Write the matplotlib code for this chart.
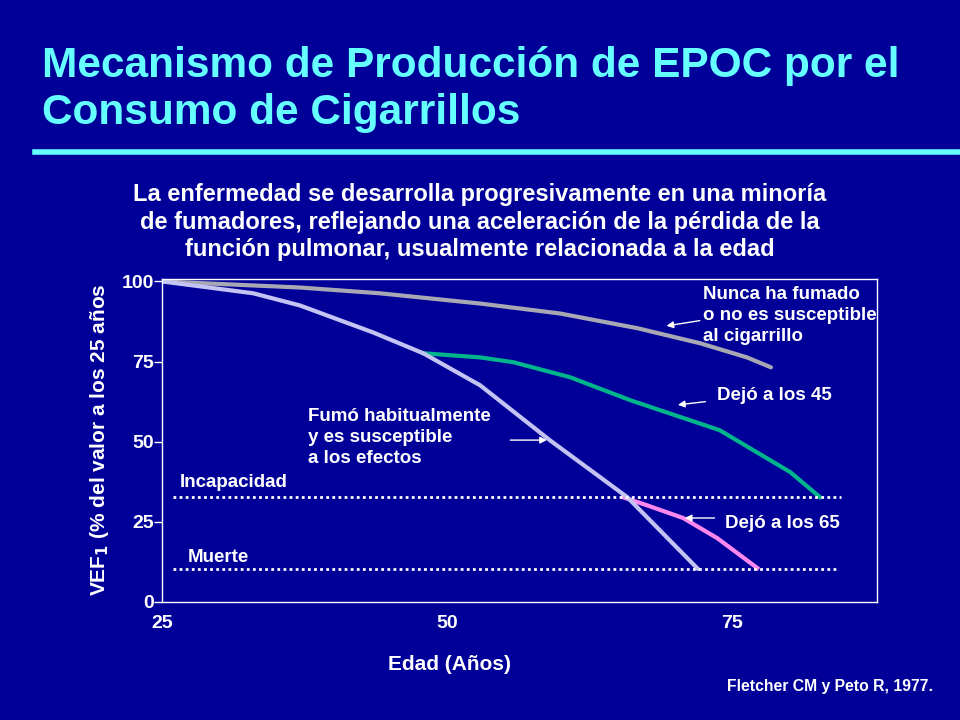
import matplotlib.pyplot as plt

plt.rcParams['font.family'] = ['Liberation Sans', 'DejaVu Sans']
plt.rcParams['font.weight'] = 'bold'

BG = '#000099'
CYAN = '#66ffff'

# FEV1 curves (age, % of value at 25)
age_never = [25, 37.1, 44.1, 52.9, 59.9, 66.7, 72.2, 76.3, 78.4]
fev_never = [100, 98.1, 96.3, 93.1, 90.0, 85.4, 80.7, 76.3, 73.2]

age_smoker = [25, 33.0, 37.1, 43.5, 47.9, 52.9, 59.0, 65.8, 72.0]
fev_smoker = [100, 96.3, 92.5, 84.1, 77.6, 67.6, 50.5, 32.7, 10.3]

age_quit45 = [47.9, 52.9, 55.8, 60.8, 66.1, 73.9, 80.1, 82.7]
fev_quit45 = [77.6, 76.3, 74.8, 70.1, 62.9, 53.6, 40.5, 32.7]

age_quit65 = [65.4, 67.5, 70.7, 73.7, 77.2]
fev_quit65 = [32.7, 30.2, 26.2, 19.9, 10.6]

disability_level = 32.7
death_level = 10.3

xticks = [25, 50, 75]
yticks = [0, 25, 50, 75, 100]

fig = plt.figure(figsize=(9.6, 7.2), dpi=100, facecolor=BG)


def px(x, y):
    return x / 960, 1 - y / 720


# title and subtitle
fig.text(*px(42, 66), 'Mecanismo de Producción de EPOC por el', color=CYAN,
         fontsize=30.5, ha='left', va='center')
fig.text(*px(42, 113), 'Consumo de Cigarrillos', color=CYAN,
         fontsize=30.5, ha='left', va='center')
fig.add_artist(plt.Line2D([35 / 960, 1], [1 - 152 / 720] * 2, color=CYAN, lw=4))
fig.text(*px(480, 222), 'La enfermedad se desarrolla progresivamente en una minoría\n'
         'de fumadores, reflejando una aceleración de la pérdida de la\n'
         'función pulmonar, usualmente relacionada a la edad',
         color='white', fontsize=17, ha='center', va='center', linespacing=1.27)

ax = fig.add_axes([162 / 960, (720 - 602) / 720, (877 - 162) / 960, (602 - 279.5) / 720])
ax.set_facecolor(BG)
for s in ax.spines.values():
    s.set_color('white')
    s.set_linewidth(1)

ax.plot(age_never, fev_never, color='#a8a8b4', lw=3, solid_capstyle='round')
ax.plot(age_quit45, fev_quit45, color='#00b48c', lw=3)
ax.plot(age_quit65, fev_quit65, color='#ff88ee', lw=3)
ax.plot(age_smoker, fev_smoker, color='#c4c4f4', lw=3, solid_capstyle='round')

ax.plot([26.0, 84.5], [disability_level] * 2, color='white', lw=2, ls=(0, (1, 1.2)))
ax.plot([26.0, 84.2], [death_level] * 2, color='white', lw=2, ls=(0, (1, 1.2)))

ax.set_xlim(25, 87.7)
ax.set_ylim(0, 100.6)
ax.set_xticks(xticks)
ax.set_yticks(yticks)
ax.tick_params(axis='x', length=0, pad=9, colors='white', labelsize=14)
ax.tick_params(axis='y', length=6, width=1, pad=0, colors='white', labelsize=14)

txt = dict(color='white', fontsize=13.5, ha='left', va='center', linespacing=1.3)
ax.text(72.4, 89.4, 'Nunca ha fumado\no no es susceptible\nal cigarrillo', **txt)
ax.text(37.8, 51.4, 'Fumó habitualmente\ny es susceptible\na los efectos', **txt)
ax.text(26.6, 37.4, 'Incapacidad', **txt)
ax.text(27.3, 14.0, 'Muerte', **txt)
ax.text(73.7, 64.5, 'Dejó a los 45', **txt)
ax.text(74.4, 24.6, 'Dejó a los 65', **txt)

arrow = dict(arrowstyle='-|>', color='white', lw=1, mutation_scale=10)
ax.annotate('', xy=(59.0, 50.5), xytext=(55.3, 50.5), arrowprops=arrow)
ax.annotate('', xy=(69.0, 86.0), xytext=(72.4, 87.9), arrowprops=arrow)
ax.annotate('', xy=(70.0, 61.4), xytext=(72.9, 62.6), arrowprops=arrow)
ax.annotate('', xy=(70.6, 26.2), xytext=(73.7, 26.2), arrowprops=arrow)

fig.text(*px(100, 440), 'VEF$_\\mathbf{1}$ (% del valor a los 25 años', color='white',
         fontsize=15, rotation=90, ha='center', va='center')
fig.text(*px(450, 665), 'Edad (Años)', color='white', fontsize=15, ha='center', va='center')
fig.text(*px(933, 687), 'Fletcher CM y Peto R, 1977.', color='white', fontsize=11.3,
         ha='right', va='center')

fig.savefig('out.png', dpi=100, facecolor=BG)
